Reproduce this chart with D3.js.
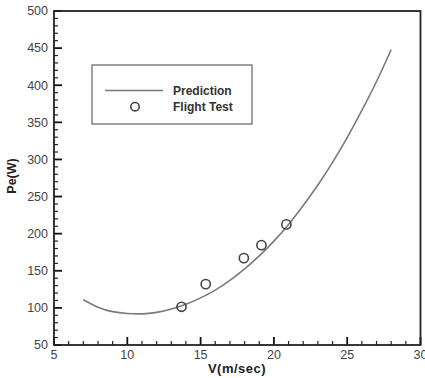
<!DOCTYPE html>
<html><head><meta charset="utf-8">
<script src="https://cdn.jsdelivr.net/npm/d3@7"></script>
<style>body{margin:0;background:#fff}svg{display:block}</style>
</head><body>
<svg id="c" width="425" height="378"></svg>
<script>
const predV = [7,8,9,10,11,12,13,14,15,16,17,18,19,20,21,22,23,24,25,26,27,28];
const predP = [111,101,95,92.5,92,94,98.5,105,113.5,124,137,152.5,170,190,212.5,238,265.5,296,329.5,366,405,448];
const testV = [13.7,15.35,17.95,19.15,20.85];
const testP = [101.5,132,167,184.5,212.5];
const xTicks = [5,10,15,20,25,30];
const yTicks = [50,100,150,200,250,300,350,400,450,500];
const legendLabels = ["Prediction","Flight Test"];

const svg = d3.select("#c");
const L=54, R=420.5, T=11, B=345;
const x = d3.scaleLinear().domain([5,30]).range([L,R]);
const y = d3.scaleLinear().domain([50,500]).range([B,T]);
const font = "Liberation Sans, Arial, sans-serif";
const tickCol = "#444";

// minor ticks
const g = svg.append("g");
d3.range(6,30,1).filter(v=>v%5!==0).forEach(v=>{
  g.append("line").attr("x1",x(v)).attr("x2",x(v)).attr("y1",B).attr("y2",B-4).attr("stroke","#222").attr("stroke-width",1.2);
});
d3.range(60,500,10).filter(v=>v%50!==0).forEach(v=>{
  g.append("line").attr("y1",y(v)).attr("y2",y(v)).attr("x1",L).attr("x2",L+4).attr("stroke","#222").attr("stroke-width",1.2);
});
xTicks.forEach(v=>{
  g.append("line").attr("x1",x(v)).attr("x2",x(v)).attr("y1",B).attr("y2",B-8).attr("stroke","#111").attr("stroke-width",1.8);
  g.append("text").attr("x",x(v)).attr("y",B+14).attr("text-anchor","middle")
   .attr("font-family",font).attr("font-size",12.5).attr("fill",tickCol).text(v);
});
yTicks.forEach(v=>{
  g.append("line").attr("y1",y(v)).attr("y2",y(v)).attr("x1",L).attr("x2",L+8).attr("stroke","#111").attr("stroke-width",1.8);
  g.append("text").attr("x",L-6).attr("y",y(v)).attr("dy","0.35em").attr("text-anchor","end")
   .attr("font-family",font).attr("font-size",12.5).attr("fill",tickCol).text(v);
});

// frame
svg.append("rect").attr("x",L).attr("y",T).attr("width",R-L).attr("height",B-T)
  .attr("fill","none").attr("stroke","#222").attr("stroke-width",1.8);

// prediction curve
const line = d3.line().x(d=>x(d[0])).y(d=>y(d[1])).curve(d3.curveNatural);
svg.append("path").datum(predV.map((v,i)=>[v,predP[i]])).attr("d",line)
  .attr("fill","none").attr("stroke","#7a7a7a").attr("stroke-width",1.6);

// flight test
svg.selectAll("circle.pt").data(testV.map((v,i)=>[v,testP[i]])).enter().append("circle")
  .attr("class","pt").attr("cx",d=>x(d[0])).attr("cy",d=>y(d[1])).attr("r",4.6)
  .attr("fill","none").attr("stroke","#444").attr("stroke-width",1.6);

// legend
svg.append("rect").attr("x",92).attr("y",65).attr("width",160).attr("height",59)
  .attr("fill","#fff").attr("stroke","#555").attr("stroke-width",1.1);
svg.append("line").attr("x1",105).attr("x2",163).attr("y1",90.5).attr("y2",90.5)
  .attr("stroke","#7a7a7a").attr("stroke-width",1.6);
svg.append("circle").attr("cx",135).attr("cy",106.7).attr("r",4.2)
  .attr("fill","none").attr("stroke","#444").attr("stroke-width",1.6);
legendLabels.forEach((t,i)=>{
  svg.append("text").attr("x",173).attr("y",[94.5,111][i]).attr("font-family",font)
   .attr("font-size",12).attr("font-weight","bold").attr("fill","#333").text(t);
});

// axis titles
svg.append("text").attr("x",237).attr("y",373).attr("text-anchor","middle")
  .attr("font-family",font).attr("font-size",13).attr("font-weight","bold").attr("fill","#222")
  .attr("letter-spacing","0.5px").text("V(m/sec)");
svg.append("text").attr("transform","translate(16,176) rotate(-90)").attr("text-anchor","middle")
  .attr("font-family",font).attr("font-size",12.5).attr("font-weight","bold").attr("fill","#222")
  .text("Pe(W)");
</script>
</body></html>
